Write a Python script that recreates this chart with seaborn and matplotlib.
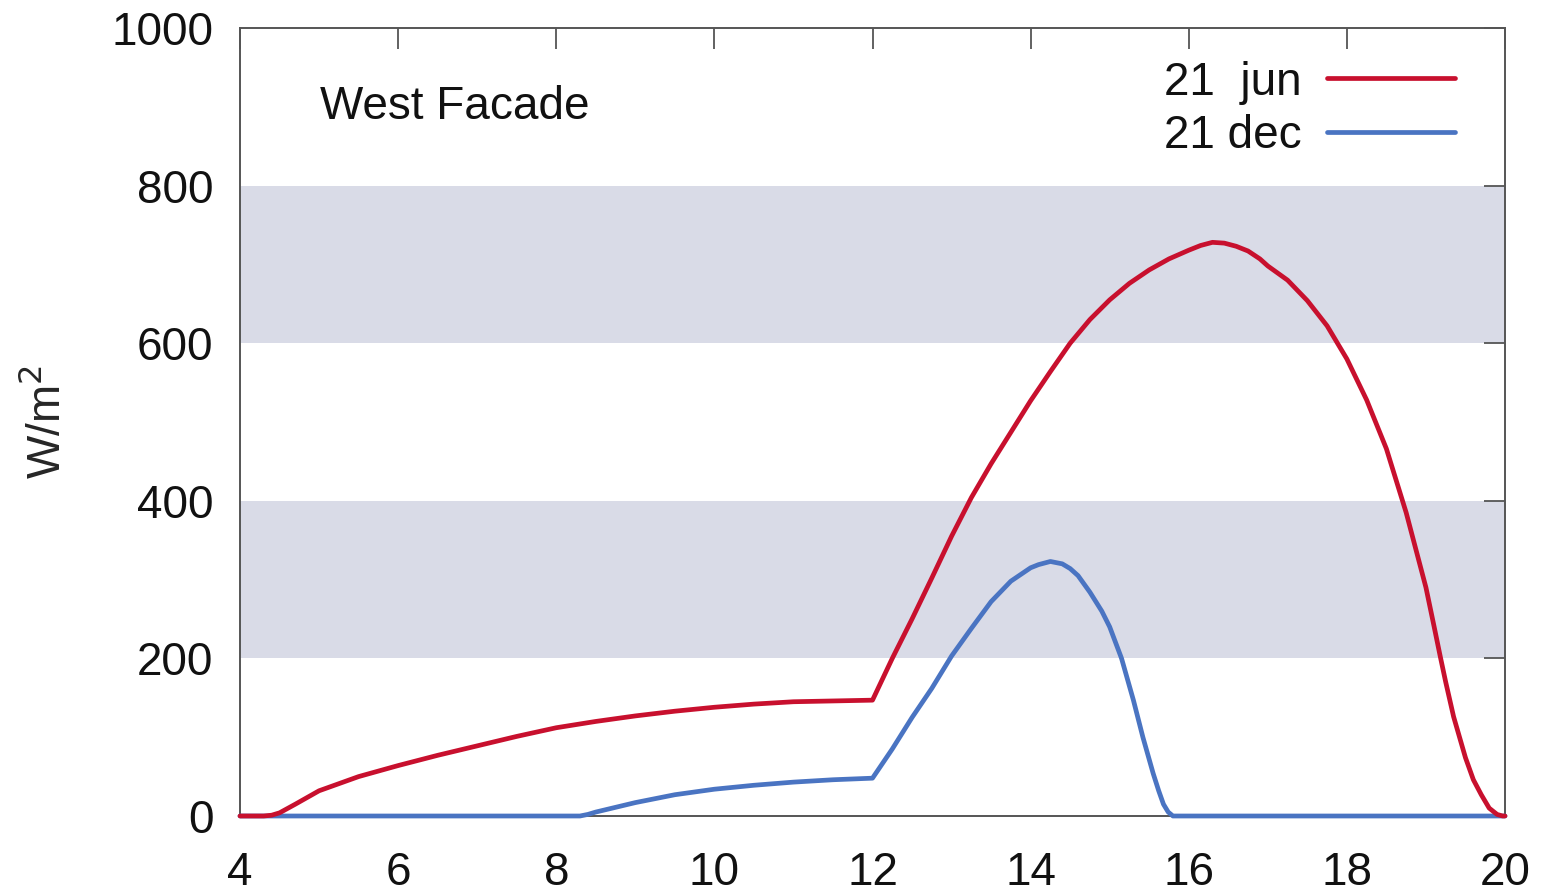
import matplotlib
matplotlib.use("Agg")
import matplotlib.pyplot as plt
import seaborn as sns
import pandas as pd

# ---- data ----
jun_hours = [4.0, 4.3, 4.4, 4.5, 4.7, 5.0, 5.5, 6.0, 6.5, 7.0, 7.5, 8.0, 8.5, 9.0, 9.5, 10.0,
             10.5, 11.0, 11.5, 12.0, 12.25, 12.5, 12.75, 13.0, 13.25, 13.5, 13.75, 14.0,
             14.25, 14.5, 14.75, 15.0, 15.25, 15.5, 15.75, 16.0, 16.15, 16.3, 16.45, 16.6,
             16.75, 16.9, 17.0, 17.25, 17.5, 17.75, 18.0, 18.25, 18.5, 18.75, 19.0, 19.1,
             19.18, 19.25, 19.35, 19.5, 19.6, 19.7, 19.8, 19.9, 19.97, 20.0]
jun_values = [0, 0, 1, 4, 15, 32, 50, 64, 77, 89, 101, 112, 120, 127, 133, 138,
              142, 145, 146, 147, 200, 250, 302, 355, 404, 447, 487, 527,
              564, 600, 630, 655, 676, 693, 707, 718, 724, 728, 727, 723,
              717, 707, 698, 680, 654, 622, 580, 528, 466, 385, 290, 242,
              203, 170, 126, 74, 46, 27, 10, 2, 0, 0]

dec_hours = [4.0, 8.3, 8.4, 8.5, 8.75, 9.0, 9.5, 10.0, 10.5, 11.0, 11.5, 12.0, 12.25, 12.5,
             12.75, 13.0, 13.25, 13.5, 13.75, 14.0, 14.1, 14.25, 14.4, 14.5, 14.6, 14.75,
             14.9, 15.0, 15.15, 15.3, 15.42, 15.55, 15.62, 15.68, 15.74, 15.8, 20.0]
dec_values = [0, 0, 2, 5, 11, 17, 27, 34, 39, 43, 46, 48, 85, 125,
              162, 203, 238, 272, 298, 315, 319, 323, 320, 314, 305, 284,
              260, 240, 200, 147, 100, 54, 32, 15, 5, 0, 0]

band_low = [200, 600]
band_high = [400, 800]

series_labels = ["21  jun", "21 dec"]
x_ticks = [4, 6, 8, 10, 12, 14, 16, 18, 20]
y_ticks = [0, 200, 400, 600, 800, 1000]

RED = "#c8102e"
BLUE = "#4a74c2"
BAND = "#d9dbe7"
FS = 33

sns.set_style("white")
plt.rcParams["font.family"] = ["Liberation Sans", "DejaVu Sans"]

fig = plt.figure(figsize=(15.42, 8.93), dpi=100)
ax = fig.add_axes([240 / 1542, 77 / 893, 1265 / 1542, 788 / 893])

for lo, hi in zip(band_low, band_high):
    ax.axhspan(lo, hi, color=BAND, lw=0, zorder=0)

df_jun = pd.DataFrame({"hour": jun_hours, "W": jun_values})
df_dec = pd.DataFrame({"hour": dec_hours, "W": dec_values})
sns.lineplot(data=df_jun, x="hour", y="W", color=RED, lw=3.4, ax=ax,
             label=series_labels[0], zorder=4, clip_on=False)
sns.lineplot(data=df_dec, x="hour", y="W", color=BLUE, lw=3.4, ax=ax,
             label=series_labels[1], zorder=3, clip_on=False)
for ln in ax.get_lines():
    ln.set_solid_joinstyle("round")
    ln.set_solid_capstyle("round")

ax.set_xlim(4, 20)
ax.set_ylim(0, 1000)
ax.set_xticks(x_ticks)
ax.set_yticks(y_ticks)
ax.set_xlabel("")
ax.set_ylabel("W/m$^2$", fontsize=FS, labelpad=30)

for s in ax.spines.values():
    s.set_color("#555555")
    s.set_linewidth(1.4)
    s.set_visible(True)

ax.tick_params(axis="both", which="major", direction="in", length=15, width=1.3,
               color="#555555", labelsize=FS, labelcolor="#111111", top=True, right=True)
ax.tick_params(axis="x", pad=25)
ax.tick_params(axis="y", pad=19)

ax.text(0.063, 0.9, "West Facade", transform=ax.transAxes, fontsize=FS,
        ha="left", va="center", color="#111111")

leg = ax.legend(loc="upper right", bbox_to_anchor=(0.975, 0.982), frameon=False,
                fontsize=FS, markerfirst=False, handlelength=2.8, handletextpad=0.55,
                labelspacing=0.2, borderaxespad=0)
for t in leg.get_texts():
    t.set_color("#111111")

fig.savefig("out.png", dpi=100)
